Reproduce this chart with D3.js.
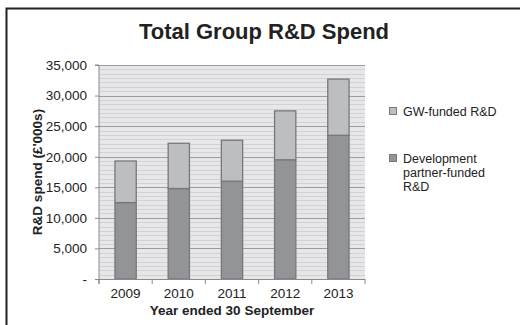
<!DOCTYPE html>
<html>
<head>
<meta charset="utf-8">
<script src="https://cdn.jsdelivr.net/npm/d3@7"></script>
<style>
  html, body { margin: 0; padding: 0; background: #fff; }
  svg { display: block; font-family: "Liberation Sans", Arial, sans-serif; }
</style>
</head>
<body>
<svg id="chart" width="520" height="325"></svg>
<script>
// Financial years and stacked R&D spend (£'000s)
const years = ["2009", "2010", "2011", "2012", "2013"];
const partnerFunded = [12500, 14800, 16000, 19500, 23500];
const gwFunded = [6800, 7400, 6700, 8000, 9200];
const yTicks = [0, 5000, 10000, 15000, 20000, 25000, 30000, 35000];
const seriesNames = ["GW-funded R&D", "Development partner-funded R&D"];

(function draw() {
  const svg = d3.select("#chart");
  const pL = 99, pR = 365, pT = 65, pB = 279;
  const FONT = "\"Liberation Sans\", Arial, sans-serif";

  // outer frame
  svg.append("rect").attr("x", 6.5).attr("y", 8.5).attr("width", 530).attr("height", 330)
    .attr("fill", "none").attr("stroke", "#222").attr("stroke-width", 2);

  svg.append("text").attr("x", 264).attr("y", 39).attr("text-anchor", "middle")
    .attr("font-size", 22).attr("font-weight", "bold").attr("fill", "#222")
    .text("Total Group R&D Spend");

  const x = d3.scaleBand().domain(years).range([pL, pR]).paddingInner(0.6).paddingOuter(0.3);
  const y = d3.scaleLinear().domain([0, 35000]).range([pB, pT]);

  // plot background
  svg.append("rect").attr("x", pL).attr("y", pT).attr("width", pR - pL).attr("height", pB - pT)
    .attr("fill", "#e7e7e9");

  // fine horizontal ruling inside the plot
  const minor = d3.range(0, 35000, 5000 / 7).filter(v => Math.abs(v % 5000) > 1 && Math.abs(v % 5000 - 5000) > 1);
  svg.append("g").selectAll("line").data(minor).join("line")
    .attr("x1", pL).attr("x2", pR)
    .attr("y1", d => Math.round(y(d)) + 0.5).attr("y2", d => Math.round(y(d)) + 0.5)
    .attr("stroke", "#d2d2d4").attr("stroke-width", 1);

  // major gridlines
  svg.append("g").selectAll("line").data(yTicks.filter(v => v > 0)).join("line")
    .attr("x1", pL).attr("x2", pR)
    .attr("y1", d => Math.round(y(d)) + 0.5).attr("y2", d => Math.round(y(d)) + 0.5)
    .attr("stroke", "#9c9c9e").attr("stroke-width", 1.2);

  // stacked bars
  const rows = years.map((yr, i) => ({ year: yr, partner: partnerFunded[i], gw: gwFunded[i] }));
  const stack = d3.stack().keys(["partner", "gw"])(rows);
  const fills = { partner: "#939497", gw: "#bdbec1" };
  svg.append("g").selectAll("g").data(stack).join("g")
    .attr("fill", d => fills[d.key])
    .selectAll("rect").data(d => d).join("rect")
    .attr("x", d => x(d.data.year)).attr("width", x.bandwidth())
    .attr("y", d => y(d[1])).attr("height", d => y(d[0]) - y(d[1]))
    .attr("stroke", "#77787b").attr("stroke-width", 1.3);

  // y axis
  const yAxis = svg.append("g").attr("transform", `translate(${pL},0)`)
    .call(d3.axisLeft(y).tickValues(yTicks).tickSize(4).tickPadding(8)
      .tickFormat(d => d === 0 ? "-" : d3.format(",")(d)));
  yAxis.select(".domain").attr("stroke", "#8a8a8a").attr("d", `M-4,${pT}H0V${pB + 5}`);
  yAxis.selectAll(".tick line").attr("stroke", "#8a8a8a");
  yAxis.selectAll("text").attr("font-size", 13.5).attr("fill", "#222").attr("font-family", FONT);

  // x axis with ticks between categories
  const xAxis = svg.append("g").attr("transform", `translate(0,${pB})`)
    .call(d3.axisBottom(x).tickSize(0).tickPadding(9));
  xAxis.select(".domain").attr("stroke", "#8a8a8a").attr("d", `M${pL},0.5H${pR}`);
  xAxis.selectAll("text").attr("font-size", 13.5).attr("fill", "#222").attr("font-family", FONT);
  const bounds = d3.range(years.length + 1).map(i => pL + i * (pR - pL) / years.length);
  svg.append("g").selectAll("line").data(bounds).join("line")
    .attr("x1", d => d).attr("x2", d => d).attr("y1", pB).attr("y2", pB + 5)
    .attr("stroke", "#8a8a8a");

  // axis titles
  svg.append("text").attr("x", 232).attr("y", 315).attr("text-anchor", "middle")
    .attr("font-size", 13.5).attr("font-weight", "bold").attr("fill", "#222")
    .text("Year ended 30 September");
  svg.append("text").attr("transform", `translate(42,${(pT + pB) / 2}) rotate(-90)`)
    .attr("text-anchor", "middle").attr("font-size", 13.5).attr("font-weight", "bold").attr("fill", "#222")
    .text("R&D spend (£'000s)");

  // legend
  const legend = [
    { key: "gw", lines: ["GW-funded R&D"], y: 116 },
    { key: "partner", lines: ["Development", "partner-funded", "R&D"], y: 163 }
  ];
  const lg = svg.append("g").selectAll("g").data(legend).join("g");
  lg.append("rect").attr("x", 389.5).attr("y", d => d.y - 8.5).attr("width", 7).attr("height", 7)
    .attr("fill", d => fills[d.key]).attr("stroke", "#77787b").attr("stroke-width", 1);
  lg.append("text").attr("x", 403).attr("y", d => d.y).attr("font-size", 12.5).attr("fill", "#222")
    .selectAll("tspan").data(d => d.lines).join("tspan")
    .attr("x", 403).attr("dy", (d, i) => i === 0 ? 0 : 14).text(d => d);
})();
</script>
</body>
</html>
